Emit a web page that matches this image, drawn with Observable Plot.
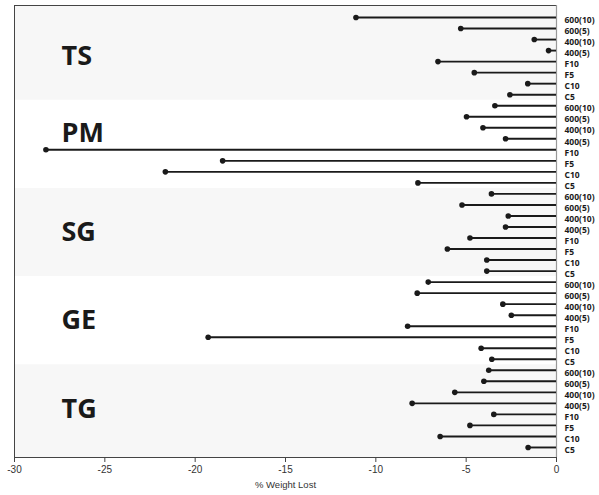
<!DOCTYPE html>
<html>
<head>
<meta charset="utf-8">
<script src="https://cdn.jsdelivr.net/npm/d3@7"></script>
<script src="https://cdn.jsdelivr.net/npm/@observablehq/plot@0.6"></script>
<style>
  html, body { margin: 0; padding: 0; background: #fff; }
</style>
</head>
<body>
<div id="chart"></div>
<script>
const groups = ["TS", "PM", "SG", "GE", "TG"];
const conditions = ["600(10)", "600(5)", "400(10)", "400(5)", "F10", "F5", "C10", "C5"];
const tsValues = [-11.1, -5.3, -1.23, -0.44, -6.56, -4.55, -1.59, -2.58];
const pmValues = [-3.41, -4.98, -4.07, -2.82, -28.26, -18.48, -21.65, -7.67];
const sgValues = [-3.6, -5.23, -2.67, -2.82, -4.79, -6.04, -3.86, -3.86];
const geValues = [-7.1, -7.71, -2.97, -2.5, -8.24, -19.28, -4.17, -3.58];
const tgValues = [-3.75, -4.02, -5.63, -7.99, -3.47, -4.79, -6.44, -1.57];
const xTicks = [-30, -25, -20, -15, -10, -5, 0];
const xLabel = "% Weight Lost";
// vertical nudge of each group label, in rows (PM sits above its long F10 stem)
const labelNudge = [0, -0.95, 0, 0, 0];

const seriesByGroup = [tsValues, pmValues, sgValues, geValues, tgValues];
const rows = groups.flatMap((g, gi) =>
  seriesByGroup[gi].map((v, ci) => ({group: g, cond: conditions[ci], idx: gi * conditions.length + ci, value: v}))
);
const n = rows.length;
const yDomain = [-1.09, n - 1 + 0.91];
const bands = groups.map((g, gi) => ({
  group: g,
  y1: gi === 0 ? yDomain[0] : gi * conditions.length - 0.5,
  y2: gi === groups.length - 1 ? yDomain[1] : gi * conditions.length + conditions.length - 0.5,
  shaded: gi % 2 === 0,
  center: gi * conditions.length + (conditions.length - 1) / 2 + labelNudge[gi]
}));

const chart = Plot.plot({
  width: 599,
  height: 495,
  marginLeft: 14,
  marginRight: 43,
  marginTop: 5,
  marginBottom: 38,
  style: {fontFamily: "Liberation Sans, Arial, sans-serif", background: "#fff"},
  x: {domain: [xTicks[0], xTicks[xTicks.length - 1]]},
  y: {domain: yDomain, reverse: true},
  marks: [
    Plot.rect(bands.filter(d => d.shaded), {y1: "y1", y2: "y2", fill: "#f7f7f7"}),
    Plot.frame({stroke: "#444", strokeWidth: 1}),
    Plot.ruleX([xTicks[xTicks.length - 1]], {stroke: "#999", strokeWidth: 1.2}),
    Plot.ruleY(rows, {y: "idx", x1: "value", x2: () => 0, stroke: "#1a1a1a", strokeWidth: 1.9}),
    Plot.dot(rows, {x: "value", y: "idx", r: 2.8, fill: "#1a1a1a", stroke: "none"}),
    Plot.text(bands, {
      y: "center", text: "group", frameAnchor: "left", textAnchor: "start", dx: 47,
      fontSize: 27, fontWeight: 700, fontFamily: "Open Sans", fill: "#1a1a1a"
    }),
    Plot.axisY({
      anchor: "right", ticks: rows.map(d => d.idx), tickSize: 0, tickPadding: 8, dy: 3,
      tickFormat: i => rows[i].cond, fontSize: 8.5, fontWeight: 700, fontFamily: "Open Sans",
      fill: "#1a1a1a", label: null
    }),
    Plot.axisX({
      anchor: "bottom", ticks: xTicks, tickSize: 5, tickPadding: 3, tickFormat: d => String(d),
      fontSize: 10, fill: "#333", stroke: "#444", label: null
    }),
    Plot.text([xLabel], {frameAnchor: "bottom", dy: 30, fontSize: 9.5, fill: "#333"})
  ]
});
document.getElementById("chart").appendChild(chart);
</script>
</body>
</html>
